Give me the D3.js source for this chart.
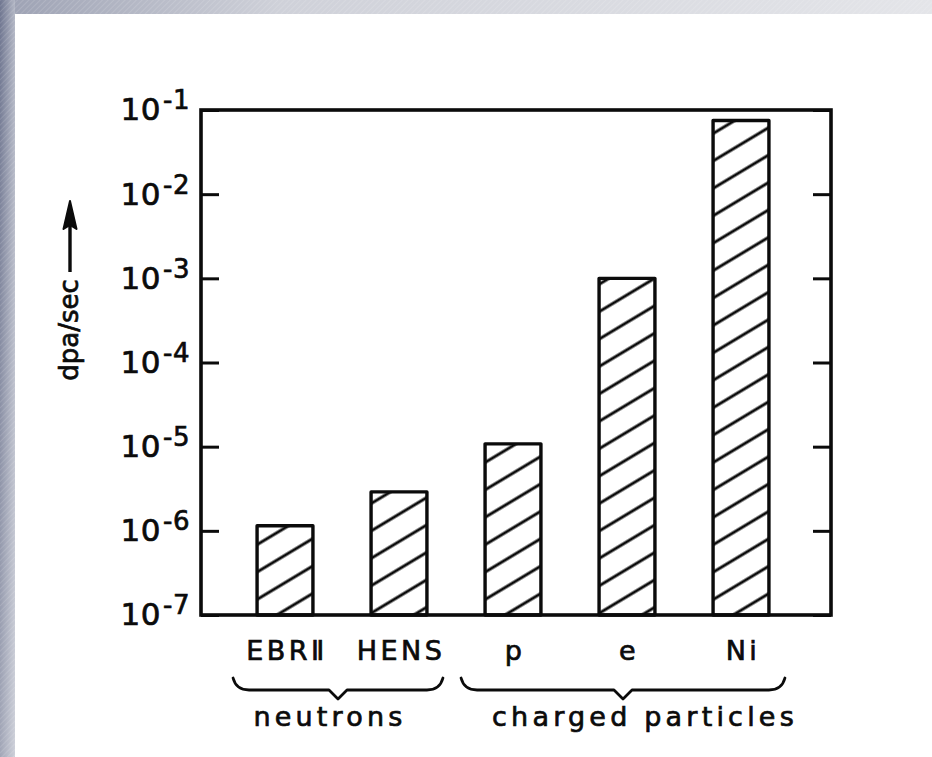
<!DOCTYPE html>
<html>
<head>
<meta charset="utf-8">
<script src="https://cdn.jsdelivr.net/npm/d3@7/dist/d3.min.js"></script>
<style>
  html, body { margin: 0; padding: 0; background: #ffffff; }
  svg { display: block; }
</style>
</head>
<body>
<svg id="chart" width="932" height="757"></svg>
<script>
// Displacement rates for different irradiation sources
const categories = ["EBR\u2161", "HENS", "p", "e", "Ni"];
const dpaRates   = [1.15e-6, 2.9e-6, 1.08e-5, 1.0e-3, 7.5e-2];
const tickValues = [1e-7, 1e-6, 1e-5, 1e-4, 1e-3, 1e-2, 1e-1];
const tickExponents = ["-7", "-6", "-5", "-4", "-3", "-2", "-1"];
const groupNames   = ["neutrons", "charged particles"];
const groupMembers = [["EBR\u2161", "HENS"], ["p", "e", "Ni"]];
const axisTitle = "dpa/sec";

const W = 932, H = 757;
const frame = { left: 201, right: 831, top: 110, bottom: 615 };
const ink = "#0b0b0b";
const font = "'DejaVu Sans', Verdana, sans-serif";

const svg = d3.select("#chart");
const defs = svg.append("defs");

// --- page backdrop: slate strip on the left, grey strip on top ---
const gl = defs.append("linearGradient").attr("id", "leftStrip")
  .attr("x1", 0).attr("y1", 0).attr("x2", 1).attr("y2", 0);
gl.append("stop").attr("offset", 0).attr("stop-color", "#6f7690");
gl.append("stop").attr("offset", 1).attr("stop-color", "#b3b7c5");

const gv = defs.append("linearGradient").attr("id", "leftFade")
  .attr("x1", 0).attr("y1", 0).attr("x2", 0).attr("y2", 1);
gv.append("stop").attr("offset", 0).attr("stop-color", "#ffffff").attr("stop-opacity", 0);
gv.append("stop").attr("offset", 1).attr("stop-color", "#ffffff").attr("stop-opacity", 0.35);

const gt = defs.append("linearGradient").attr("id", "topStrip")
  .attr("x1", 0).attr("y1", 0).attr("x2", 1).attr("y2", 0);
gt.append("stop").attr("offset", 0).attr("stop-color", "#9ca1b3");
gt.append("stop").attr("offset", 0.3).attr("stop-color", "#cfd1d9");
gt.append("stop").attr("offset", 1).attr("stop-color", "#e4e5e9");

const stripes = defs.append("pattern").attr("id", "stripes")
  .attr("patternUnits", "userSpaceOnUse").attr("width", 4).attr("height", 4)
  .attr("patternTransform", "rotate(45)");
stripes.append("line").attr("x1", 0).attr("y1", 0).attr("x2", 0).attr("y2", 4)
  .attr("stroke", "#ffffff").attr("stroke-opacity", 0.22).attr("stroke-width", 1.2);

svg.append("rect").attr("width", W).attr("height", H).attr("fill", "#ffffff");
svg.append("rect").attr("x", 0).attr("y", 0).attr("width", W).attr("height", 14).attr("fill", "url(#topStrip)");
svg.append("rect").attr("x", 0).attr("y", 0).attr("width", W).attr("height", 14).attr("fill", "url(#stripes)");
svg.append("rect").attr("x", 0).attr("y", 0).attr("width", 15).attr("height", H).attr("fill", "url(#leftStrip)");
svg.append("rect").attr("x", 0).attr("y", 0).attr("width", 15).attr("height", H).attr("fill", "url(#leftFade)");
svg.append("rect").attr("x", 0).attr("y", 0).attr("width", 15).attr("height", H).attr("fill", "url(#stripes)");

// --- hatch fill for the bars ---
const hatch = defs.append("pattern").attr("id", "hatch")
  .attr("patternUnits", "userSpaceOnUse").attr("width", 40).attr("height", 23.5)
  .attr("patternTransform", "rotate(-31)");
hatch.append("rect").attr("width", 40).attr("height", 23.5).attr("fill", "#ffffff");
hatch.append("line").attr("x1", 0).attr("x2", 40).attr("y1", 11.75).attr("y2", 11.75)
  .attr("stroke", ink).attr("stroke-width", 2.8);

// --- scales ---
const y = d3.scaleLog().domain([1e-7, 1e-1]).range([frame.bottom, frame.top]);
const x = d3.scaleBand().domain(categories).range([228, 798])
  .paddingInner(0.51).paddingOuter(0.255);

// --- bars ---
svg.append("g").selectAll("rect").data(categories).join("rect")
  .attr("x", d => x(d))
  .attr("y", (d, i) => y(dpaRates[i]))
  .attr("width", x.bandwidth())
  .attr("height", (d, i) => y(1e-7) - y(dpaRates[i]))
  .attr("fill", "url(#hatch)")
  .attr("stroke", ink).attr("stroke-width", 3.4)
  .attr("stroke-linejoin", "round");

// --- axes (inward ticks on both sides) ---
const axisL = d3.axisLeft(y).tickValues(tickValues)
  .tickSizeInner(-18).tickSizeOuter(0).tickPadding(11).tickFormat(() => "");
const gL = svg.append("g").attr("transform", `translate(${frame.left},0)`).call(axisL);

const axisR = d3.axisRight(y).tickValues(tickValues)
  .tickSizeInner(-18).tickSizeOuter(0).tickFormat(() => "");
const gR = svg.append("g").attr("transform", `translate(${frame.right},0)`).call(axisR);

[gL, gR].forEach(g => {
  g.select(".domain").remove();
  g.selectAll(".tick line").attr("stroke", ink).attr("stroke-width", 3);
});
gR.selectAll(".tick text").remove();

// tick labels as 10 with a raised exponent
gL.selectAll(".tick text").each(function (d, i) {
  const t = d3.select(this)
    .attr("fill", ink).attr("stroke", ink).attr("stroke-width", 0.7)
    .attr("font-family", font).attr("font-size", 31)
    .attr("letter-spacing", 0.5)
    .attr("dy", "0.32em");
  t.append("tspan").text("10");
  t.append("tspan").attr("dx", 2).attr("dy", -11).attr("font-size", 26)
    .text(tickExponents[i]);
});

// --- plot frame ---
svg.append("rect")
  .attr("x", frame.left).attr("y", frame.top)
  .attr("width", frame.right - frame.left).attr("height", frame.bottom - frame.top)
  .attr("fill", "none").attr("stroke", ink).attr("stroke-width", 3.6);

// --- category labels ---
svg.append("g").selectAll("text").data(categories).join("text")
  .attr("x", d => x(d) + x.bandwidth() / 2 + 2)
  .attr("y", 660)
  .attr("text-anchor", "middle")
  .attr("font-family", font).attr("font-size", 27)
  .attr("letter-spacing", 3.5)
  .attr("fill", ink).attr("stroke", ink).attr("stroke-width", 0.7)
  .text(d => d);

// --- group braces and names ---
const braceTop = 678, braceLine = 690, braceTip = 699;
groupMembers.forEach((members, gi) => {
  const first = members[0], last = members[members.length - 1];
  const x0 = x(first) - 24;
  const x1 = x(last) + x.bandwidth() + 16;
  const mid = (x0 + x1) / 2;
  const path = d3.path();
  path.moveTo(x0, braceTop);
  path.quadraticCurveTo(x0 + 3, braceLine, x0 + 16, braceLine);
  path.lineTo(mid - 9, braceLine);
  path.lineTo(mid, braceTip);
  path.lineTo(mid + 9, braceLine);
  path.lineTo(x1 - 16, braceLine);
  path.quadraticCurveTo(x1 - 3, braceLine, x1, braceTop);
  svg.append("path").attr("d", path.toString())
    .attr("fill", "none").attr("stroke", ink).attr("stroke-width", 2.8)
    .attr("stroke-linejoin", "round").attr("stroke-linecap", "round");

  svg.append("text")
    .attr("x", mid + (gi === 0 ? -8 : 22))
    .attr("y", 726)
    .attr("text-anchor", "middle")
    .attr("font-family", font).attr("font-size", 27)
    .attr("letter-spacing", 4.2)
    .attr("fill", ink).attr("stroke", ink).attr("stroke-width", 0.7)
    .text(groupNames[gi]);
});

// --- y-axis title with upward arrow ---
const titleX = 78, titleY = 330;
svg.append("text")
  .attr("transform", `translate(${titleX},${titleY}) rotate(-90)`)
  .attr("text-anchor", "middle")
  .attr("font-family", font).attr("font-size", 26)
  .attr("fill", ink).attr("stroke", ink).attr("stroke-width", 0.7)
  .text(axisTitle);

const arrowX = titleX - 8;
svg.append("line")
  .attr("x1", arrowX).attr("x2", arrowX)
  .attr("y1", 272).attr("y2", 222)
  .attr("stroke", ink).attr("stroke-width", 3.4);
svg.append("path")
  .attr("d", `M${arrowX},201 L${arrowX + 6.5},229 L${arrowX},225 L${arrowX - 6.5},229 Z`)
  .attr("fill", ink).attr("stroke", ink).attr("stroke-width", 2)
  .attr("stroke-linejoin", "round");
</script>
</body>
</html>
